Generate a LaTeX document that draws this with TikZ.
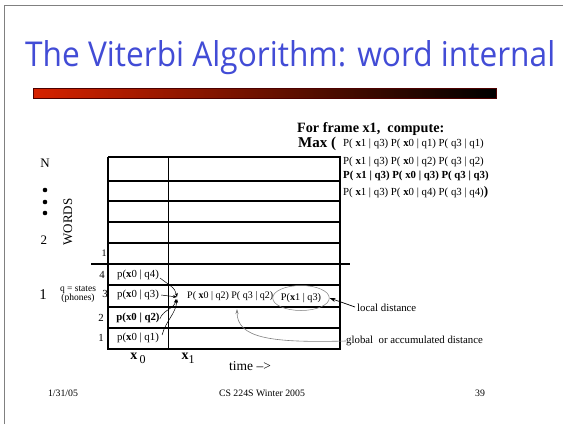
\documentclass[tikz,border=0pt]{standalone}
\usepackage{fontspec}
\setmainfont{Liberation Serif}
\newfontfamily\titlefont{Open Sans}
\usetikzlibrary{arrows.meta,shapes.geometric}
\definecolor{titleblue}{RGB}{66,76,214}
\definecolor{barred}{RGB}{214,34,0}
\definecolor{frameline}{RGB}{128,128,128}
\tikzset{
  txt/.style={inner sep=0pt, font=\fontsize{10.8}{12}\selectfont},
  small/.style={inner sep=0pt, font=\fontsize{9.5}{10}\selectfont},
  foot/.style={inner sep=0pt, font=\fontsize{9.8}{11}\selectfont},
  lbl/.style={inner sep=0pt, font=\fontsize{13}{15}\selectfont},
  gridline/.style={line width=1.1pt},
  sepline/.style={line width=1.5pt},
  colline/.style={line width=0.8pt},
  feed/.style={line width=0.5pt, -{Stealth[length=4pt,width=3pt]}},
  note/.style={line width=0.7pt, -{Stealth[length=6pt,width=4pt]}},
  accum/.style={line width=0.6pt, draw=gray, -{Stealth[length=5pt,width=3pt]}}
}
\newcommand{\bx}{\textbf{x}}
\begin{document}
\begin{tikzpicture}[x=1pt,y=-1pt]
  % page and slide frame
  \fill[white] (0,0) rectangle (563,424);
  \useasboundingbox (0,0) rectangle (563,424);
  \draw[frameline, line width=1pt] (4,424) -- (4,5) -- (563,5);

  % title and rule bar
  \node[anchor=base west, inner sep=0pt, text=titleblue] (title) at (25,66)
    {\resizebox{530pt}{26pt}{\titlefont The Viterbi Algorithm: word internal}};
  \shade[left color=barred, right color=black] (33,88) rectangle (496,98);
  \draw[line width=0.6pt, black!70!red] (33,88) rectangle (496,98);

  % word/state lattice
  \foreach \yy in {157,181,201,222,243} \draw[gridline] (108,\yy) -- (341,\yy);
  \foreach \yy in {285,307,328} \draw[gridline] (108,\yy) -- (341,\yy);
  \draw[sepline] (91,264) -- (350,264);
  \draw[gridline] (108,157) -- (108,349) -- (340,349) -- (340,157);
  \draw[colline] (168,157) -- (168,349);

  % word axis
  \node[lbl] (wN) at (45,163) {N};
  \foreach \yy in {190,202,213} \fill (45,\yy) circle (2.3pt);
  \node[lbl] (w2) at (44,240) {2};
  \node[lbl, rotate=90] (words) at (68,222) {WORDS};
  \node[inner sep=0pt, font=\fontsize{10}{11}\selectfont] (s1top) at (104,253) {1};
  \node[inner sep=0pt, font=\fontsize{15}{17}\selectfont] (w1) at (43,295) {1};

  % state axis
  \node[small] (qs) at (78,290) {q = states};
  \node[small] (ph) at (78,298) {(phones)};
  \node[txt] (n4) at (102,275) {4};
  \node[txt] (n3) at (105,294) {3};
  \node[txt] (n2) at (101,318) {2};
  \node[txt] (n1) at (101,338) {1};

  % frame x0 emission scores
  \node[txt] (c4) at (138,275) {p(\bx0 | q4)};
  \node[txt] (c3) at (138,295) {p(\bx0 | q3)};
  \node[txt] (c2) at (138,318) {\textbf{p(x0 | q2)}};
  \node[txt] (c1) at (138,338) {p(\bx0 | q1)};
  \coordinate (join) at (177,297);
  \draw[feed] (c4.east) ++(1,3) to[out=-40,in=100] (join);
  \draw[feed] (c3.east) ++(2,0) -- (join);
  \draw[feed] (c2.east) ++(0,1) to[out=70,in=-100] (176,299);
  \draw[feed] (c1.east) ++(3,-3) to[out=75,in=-95] (177,299);

  % frame x1 score
  \node[txt, anchor=west, font=\fontsize{10}{12}\selectfont] (acc) at (187,296)
    {P( \bx0 | q2) P( q3 | q2)};
  \node[txt, draw=gray, line width=0.5pt, ellipse, minimum width=51pt,
        minimum height=25pt, inner sep=0pt, font=\fontsize{10.2}{12}\selectfont]
    (loc) at (301,298) {P(\bx1 | q3)};
  \coordinate (accpt) at (237,309);
  \node[txt, anchor=west] (locd) at (357,308) {local distance};
  \node[txt, anchor=west] (glob) at (346,341) {global\ \ or accumulated distance};
  \draw[note] (locd.west) ++(-2,-1) -- (loc.east);
  \draw[accum] (glob.west) .. controls (270,343) and (237,338) .. (accpt);

  % time axis
  \node[inner sep=0pt, font=\fontsize{14}{16}\selectfont] (x0) at (138,358)
    {\textbf{x}\,\raisebox{-4pt}{\fontsize{12}{13}\selectfont 0}};
  \node[inner sep=0pt, font=\fontsize{14}{16}\selectfont] (x1) at (188,358)
    {\textbf{x}\raisebox{-4pt}{\fontsize{12}{13}\selectfont 1}};
  \node[inner sep=0pt, font=\fontsize{13.5}{16}\selectfont] (time) at (250,366) {time –>};

  % recursion being computed
  \node[inner sep=0pt, anchor=west, font=\fontsize{14.2}{16}\bfseries] (head) at (297,129)
    {For frame x1,\ \ compute:};
  \node[inner sep=0pt, anchor=west, font=\fontsize{15}{17}\bfseries] (max) at (298,144) {Max (};
  \node[txt, anchor=west] (r1) at (343,144) {P( \bx1 | q3) P( \bx0 | q1) P( q3 | q1)};
  \node[txt, anchor=west] (r2) at (343,162) {P( \bx1 | q3) P( \bx0 | q2) P( q3 | q2)};
  \node[txt, anchor=west] (r3) at (343,176) {\bfseries P( x1 | q3) P( x0 | q3) P( q3 | q3)};
  \node[txt, anchor=west] (r4) at (343,192)
    {P( \bx1 | q3) P( \bx0 | q4) P( q3 | q4)\textbf{\fontsize{13}{13}\selectfont)}};

  % footer
  \node[foot] (date) at (63,393) {1/31/05};
  \node[foot] (course) at (262,393) {CS 224S Winter 2005};
  \node[foot] (page) at (480,393) {39};
\end{tikzpicture}
\end{document}
